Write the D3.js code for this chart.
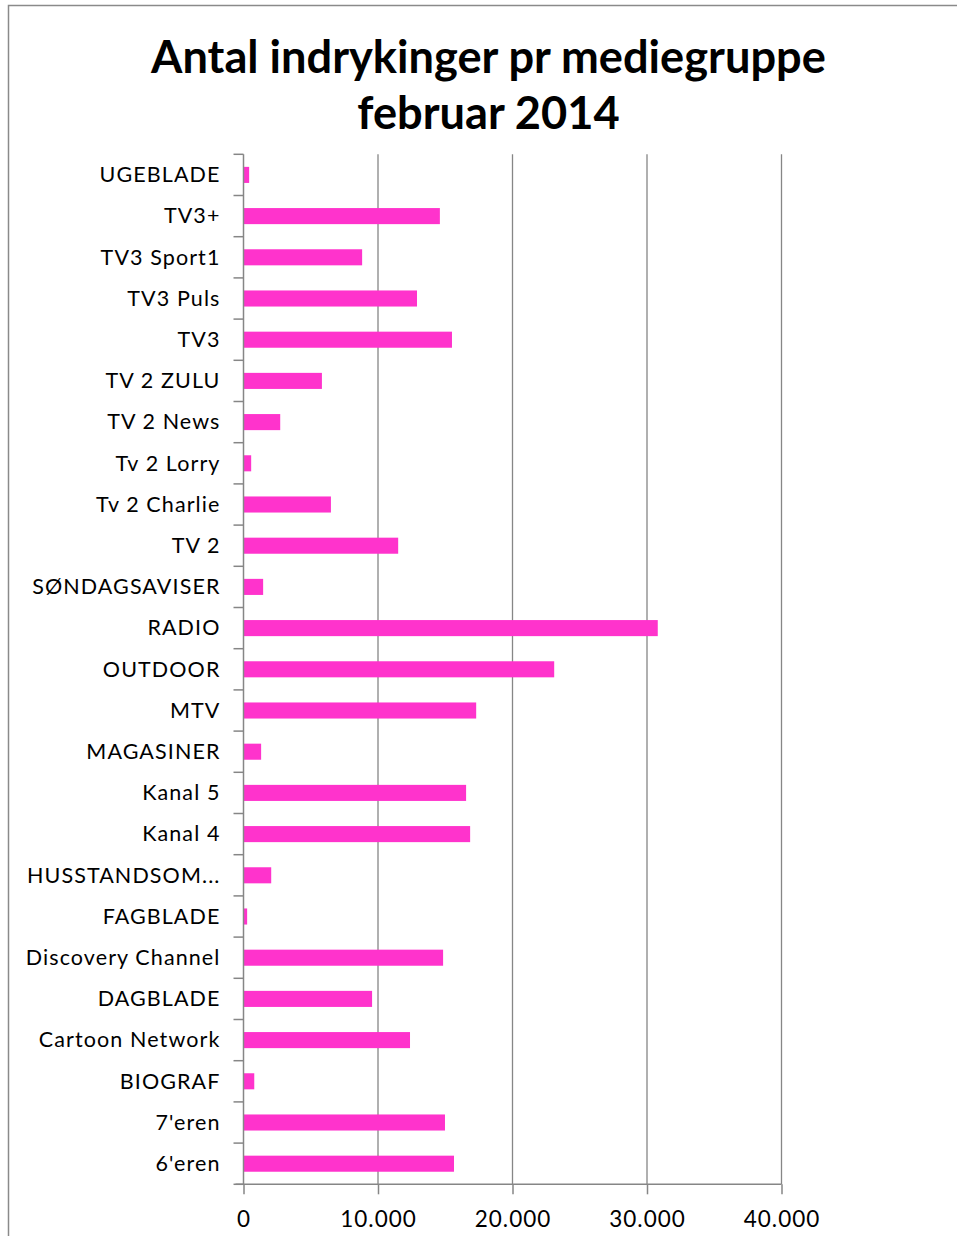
<!DOCTYPE html>
<html>
<head>
<meta charset="utf-8">
<script src="https://cdn.jsdelivr.net/npm/d3@7"></script>
<style>
  html, body { margin: 0; padding: 0; background: #fff; }
  svg { display: block; }
</style>
</head>
<body>
<svg id="chart" width="957" height="1236"></svg>
<script>
// ---- Data ----
const categories = [
  "UGEBLADE", "TV3+", "TV3 Sport1", "TV3 Puls", "TV3", "TV 2 ZULU", "TV 2 News",
  "Tv 2 Lorry", "Tv 2 Charlie", "TV 2", "SØNDAGSAVISER", "RADIO", "OUTDOOR", "MTV",
  "MAGASINER", "Kanal 5", "Kanal 4", "HUSSTANDSOM...", "FAGBLADE", "Discovery Channel",
  "DAGBLADE", "Cartoon Network", "BIOGRAF", "7'eren", "6'eren"
];
const values = [
  420, 14600, 8820, 12900, 15500, 5830, 2730,
  570, 6500, 11500, 1460, 30800, 23100, 17300,
  1310, 16550, 16850, 2060, 270, 14840,
  9560, 12380, 800, 14980, 15650
];
const xTicks = [0, 10000, 20000, 30000, 40000];
const xTickLabels = ["0", "10.000", "20.000", "30.000", "40.000"];
const titleLines = ["Antal indrykinger pr mediegruppe", "februar 2014"];

// ---- Layout ----
const svg = d3.select("#chart");
const W = 957, H = 1236;
const plot = { left: 243.5, right: 781.5, top: 154.3, bottom: 1184.3 };
const gray = "#868686";
const barColor = "#FF33CC";
const labelFont = "Lato, 'Open Sans', sans-serif";

// frame (left and top edges visible)
svg.append("path")
  .attr("d", `M8.5,${H} L8.5,5.5 L${W},5.5`)
  .attr("fill", "none").attr("stroke", "#8a8a8a").attr("stroke-width", 1.5);

// title
const title = svg.append("g").attr("font-family", labelFont).attr("font-weight", 700)
  .attr("fill", "#000").attr("text-anchor", "middle");
titleLines.forEach((t, i) => {
  title.append("text").attr("x", 488.5).attr("y", 73 + i * 56)
    .attr("font-size", 38).text(t);
});
{
  const t0 = title.select("text").node();
  const w = t0.getComputedTextLength();
  const fs = 38 * 675 / w;
  title.selectAll("text").attr("font-size", fs);
}

const x = d3.scaleLinear().domain([0, 40000]).range([plot.left, plot.right]);
const y = d3.scaleBand().domain(categories).range([plot.top, plot.bottom]).padding(0);
const barFrac = 0.39;

// gridlines
svg.append("g").selectAll("line").data(xTicks.slice(1)).join("line")
  .attr("x1", d => x(d)).attr("x2", d => x(d))
  .attr("y1", plot.top).attr("y2", plot.bottom)
  .attr("stroke", gray).attr("stroke-width", 1.3);

// bars
svg.append("g").selectAll("rect").data(categories).join("rect")
  .attr("x", x(0))
  .attr("y", (d) => y(d) + y.bandwidth() * (1 - barFrac) / 2)
  .attr("width", (d, i) => x(values[i]) - x(0))
  .attr("height", y.bandwidth() * barFrac)
  .attr("fill", barColor);

// y axis: line + boundary ticks
const yAxisG = svg.append("g");
yAxisG.append("line").attr("x1", x(0)).attr("x2", x(0))
  .attr("y1", plot.top).attr("y2", plot.bottom)
  .attr("stroke", gray).attr("stroke-width", 1.5);
const bounds = categories.map(c => y(c)).concat([plot.bottom]);
yAxisG.selectAll("line.tick").data(bounds).join("line").attr("class", "tick")
  .attr("x1", x(0) - 10).attr("x2", x(0))
  .attr("y1", d => d).attr("y2", d => d)
  .attr("stroke", gray).attr("stroke-width", 1.5);

// y labels via axis
const yLab = svg.append("g").attr("transform", `translate(${x(0) - 23},0)`)
  .call(d3.axisLeft(y).tickSize(0).tickPadding(0));
yLab.select(".domain").remove();
yLab.selectAll("text").attr("font-family", labelFont).attr("font-size", 21.5)
  .attr("letter-spacing", "1.1px")
  .attr("fill", "#000").attr("dy", "0.34em");

// x axis
const xAxisG = svg.append("g").attr("transform", `translate(0,${plot.bottom})`)
  .call(d3.axisBottom(x).tickValues(xTicks).tickSize(10).tickPadding(17)
    .tickFormat((d, i) => xTickLabels[i]));
xAxisG.select(".domain").remove();
xAxisG.append("line").attr("x1", x(0) - 8).attr("x2", x(40000))
  .attr("y1", 0).attr("y2", 0).attr("stroke", gray).attr("stroke-width", 1.5);
xAxisG.selectAll(".tick line").attr("stroke", gray).attr("stroke-width", 1.5);
xAxisG.selectAll("text").attr("font-family", labelFont).attr("font-size", 22.5)
  .attr("letter-spacing", "1px")
  .attr("fill", "#000");
</script>
</body>
</html>
